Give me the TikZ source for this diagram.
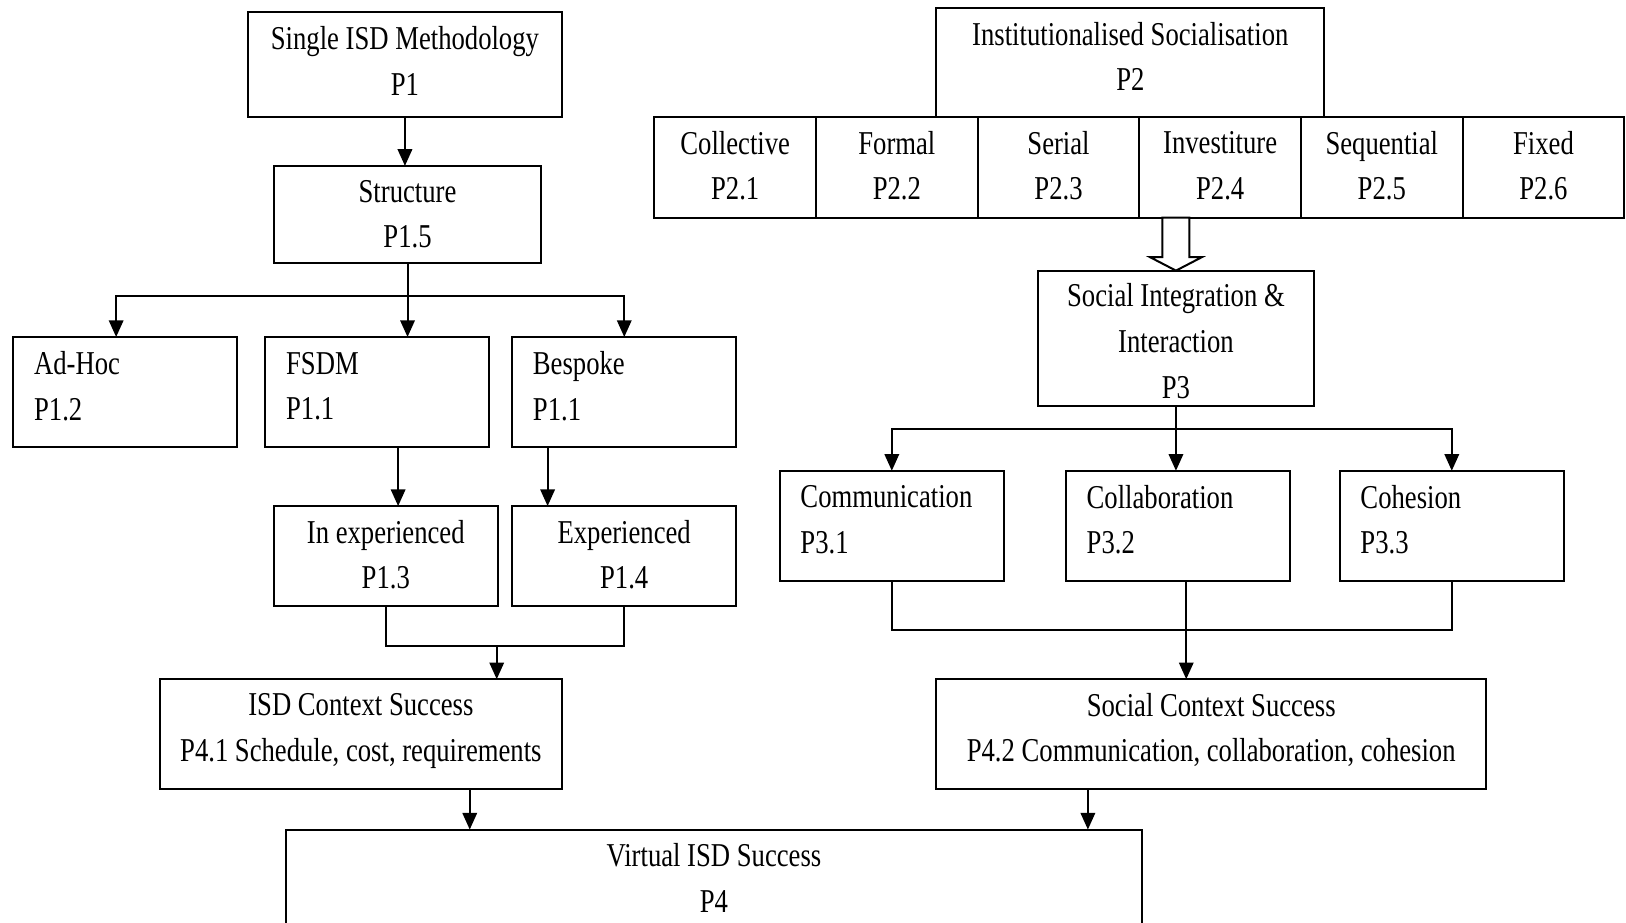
\documentclass[tikz,border=0pt]{standalone}
\usepackage{fontspec}
\setmainfont{Liberation Serif}[FakeStretch=0.8]
\usetikzlibrary{positioning,arrows.meta}

\begin{document}
\begin{tikzpicture}[
    x=0.4667pt, y=-0.4667pt,
    box/.style={draw, line width=0.9pt, outer sep=0pt, inner sep=0pt, align=center, minimum height=49.5pt, text depth=6pt, font=\fontsize{15}{20.5}\selectfont},
    lbox/.style={box, align=left, inner xsep=9.3pt, text width=82.2pt, text depth=26.1pt},
    cell/.style={box, minimum width=72.75pt, minimum height=45.3pt, text depth=1.85pt},
    arrow/.style={->, >={Triangle[length=7.5pt, width=6.5pt]}, line width=0.9pt}
]
\clip (0,0) rectangle (1568,890);

\node[box, minimum width=141.4pt, minimum height=47.1pt, text depth=3.65pt] (p1) at (390.5,62.5) {Single ISD Methodology\\P1};
\node[box, minimum width=120.4pt, minimum height=43.9pt, text depth=0.45pt] (struct) at (393,207) {Structure\\P1.5};
\node[lbox] (adhoc) at (121,378) {Ad-Hoc\\P1.2};
\node[lbox] (fsdm) at (364,378) {FSDM\\P1.1};
\node[lbox] (bespoke) at (602,378) {Bespoke\\P1.1};
\node[box, minimum width=100.8pt, minimum height=44.8pt, text depth=1.35pt] (inexp) at (372,536) {In experienced\\P1.3};
\node[box, minimum width=100.8pt, minimum height=44.8pt, text depth=1.35pt, right=6.5pt of inexp] (exp) {Experienced\\P1.4};
\node[box, minimum width=181.1pt] (isdctx) at (348,708) {ISD Context Success\\P4.1 Schedule, cost, requirements};
\node[box, minimum width=385pt] (virt) at (688.5,853) {Virtual ISD Success\\P4};

\node[box, minimum width=174.5pt, minimum height=49pt, text depth=5.55pt] (instsoc) at (1090,60.5) {Institutionalised Socialisation\\P2};
\node[cell] (coll) at (709,161.5) {Collective\\P2.1};
\node[cell, right=0pt of coll] (formal) {Formal\\P2.2};
\node[cell, right=0pt of formal] (serial) {Serial\\P2.3};
\node[cell, right=0pt of serial] (invest) {Investiture\\P2.4};
\node[cell, right=0pt of invest] (seq) {Sequential\\P2.5};
\node[cell, right=0pt of seq] (fixed) {Fixed\\P2.6};
\node[box, minimum width=124.1pt, minimum height=60.7pt, text height=54pt, text depth=0pt] (socint) at (1134,326) {Social Integration \&\\Interaction\\P3};
\node[lbox] (comm) at (860,507) {Communication\\P3.1};
\node[lbox] (collab) at (1136,507) {Collaboration\\P3.2};
\node[lbox] (cohes) at (1400,507) {Cohesion\\P3.3};
\node[box, minimum width=247.4pt] (socctx) at (1168,708) {Social Context Success\\P4.2 Communication, collaboration, cohesion};

\draw[arrow] (p1.south) -- (p1.south |- struct.north);
\draw[line width=0.9pt] (struct.south) -- ++(0,31) coordinate (split1);
\draw[arrow] (split1) -| ([xshift=-4.2pt]adhoc.north);
\draw[arrow] (split1) -- (split1 |- fsdm.north);
\draw[arrow] (split1) -| (bespoke.north);
\draw[arrow] ([xshift=9.3pt]fsdm.south) -- ([xshift=9.3pt]fsdm.south |- inexp.north);
\draw[arrow] ([xshift=-34.5pt]bespoke.south) -- ([xshift=-34.5pt]bespoke.south |- exp.north);
\draw[line width=0.9pt] (inexp.south) -- ++(0,39) -| (exp.south);
\coordinate (join1) at (479,623);
\draw[arrow] (join1) -- (join1 |- isdctx.north);
\draw[arrow] ([xshift=49pt]isdctx.south) -- ([xshift=49pt]isdctx.south |- virt.north);

\draw[line width=0.9pt, fill=white] (socint.north) -- ++(-25,-13) -- ++(12,0) -- ++(0,-38) -- ++(26,0) -- ++(0,38) -- ++(12,0) -- cycle;
\draw[line width=0.9pt] (socint.south) -- ++(0,23) coordinate (split2);
\draw[arrow] (split2) -| (comm.north);
\draw[arrow] (split2) -- (split2 |- collab.north);
\draw[arrow] (split2) -| (cohes.north);
\draw[line width=0.9pt] (comm.south) -- ++(0,47) -| (cohes.south);
\draw[arrow] ([xshift=3.7pt]collab.south) -- ([xshift=3.7pt]collab.south |- socctx.north);
\draw[arrow] ([xshift=-55.5pt]socctx.south) -- ([xshift=-55.5pt]socctx.south |- virt.north);

\end{tikzpicture}
\end{document}
